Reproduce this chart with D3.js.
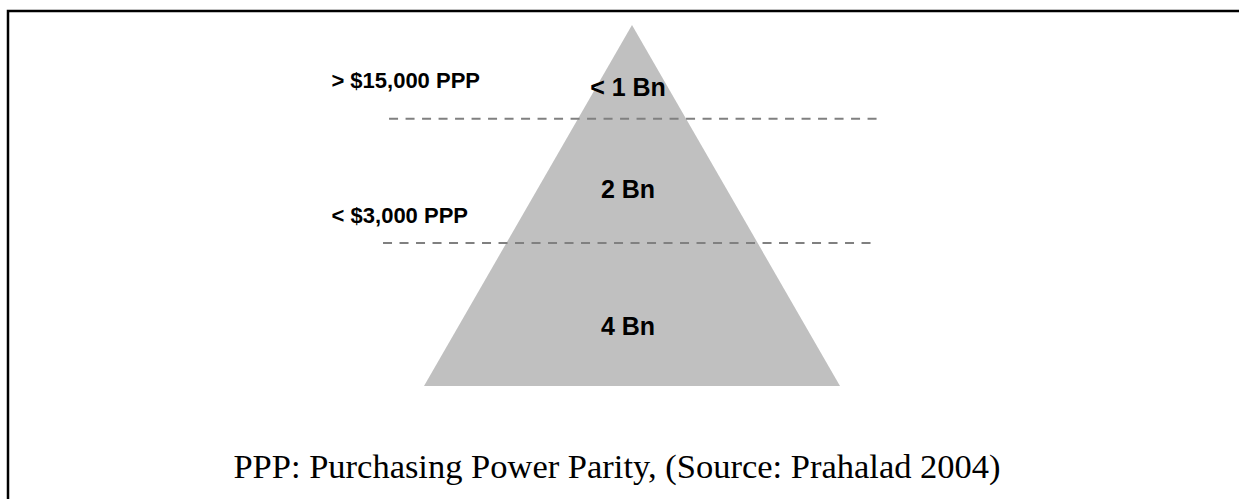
<!DOCTYPE html>
<html><head><meta charset="utf-8">
<script src="https://cdn.jsdelivr.net/npm/d3@7"></script>
<style>html,body{margin:0;padding:0;background:#fff;}svg{display:block;}</style>
</head><body>
<svg id="chart" width="1239" height="499"></svg>
<script>
// Data
const tiers = ["< 1 Bn", "2 Bn", "4 Bn"];
const boundaries = [0.26, 0.604];               // income thresholds as relative depth of pyramid
const incomeLabels = ["> $15,000 PPP", "< $3,000 PPP"];
const caption = "PPP: Purchasing Power Parity, (Source: Prahalad 2004)";

const svg = d3.select("#chart");
const W = 1239, H = 499;

// frame
svg.append("rect").attr("x", 8).attr("y", 11).attr("width", W + 10).attr("height", H + 10)
  .attr("fill", "none").attr("stroke", "#000").attr("stroke-width", 2.5);

const y = d3.scaleLinear().domain([0, 1]).range([25, 386]);
const x = d3.scaleLinear().domain([-1, 1]).range([424, 840]);

// pyramid
const tri = [[0, 0], [-1, 1], [1, 1]];
svg.append("path")
  .attr("d", d3.line().x(d => x(d[0])).y(d => y(d[1]))(tri) + "Z")
  .attr("fill", "#c0c0c0");

// dashed lines
const lineExt = [[-1.168, 1.183], [-1.197, 1.159]];
svg.selectAll("line.b").data(boundaries).join("line")
  .attr("class", "b")
  .attr("x1", (d, i) => x(lineExt[i][0])).attr("x2", (d, i) => x(lineExt[i][1]))
  .attr("y1", d => y(d)).attr("y2", d => y(d))
  .attr("stroke", "#808080").attr("stroke-width", 2)
  .attr("stroke-dasharray", "9,7.5");

// income labels
const labelEnd = [480, 468];
const labelBase = [88, 223];
svg.selectAll("text.inc").data(incomeLabels).join("text")
  .attr("class", "inc")
  .attr("x", (d, i) => labelEnd[i]).attr("y", (d, i) => labelBase[i])
  .attr("text-anchor", "end")
  .attr("font-family", "Liberation Sans, Arial, sans-serif")
  .attr("font-weight", "bold").attr("font-size", 22)
  .attr("fill", "#000").text(d => d);

// tier labels
const tierBase = [96, 198, 335];
svg.selectAll("text.tier").data(tiers).join("text")
  .attr("class", "tier")
  .attr("x", 628).attr("y", (d, i) => tierBase[i])
  .attr("text-anchor", "middle")
  .attr("font-family", "Liberation Sans, Arial, sans-serif")
  .attr("font-weight", "bold").attr("font-size", 25)
  .attr("fill", "#000").text(d => d);

// caption
svg.append("text").attr("x", 617).attr("y", 478)
  .attr("text-anchor", "middle")
  .attr("font-family", "Liberation Serif, Times New Roman, serif")
  .attr("font-size", 34.5).attr("fill", "#000").text(caption);
</script>
</body></html>
